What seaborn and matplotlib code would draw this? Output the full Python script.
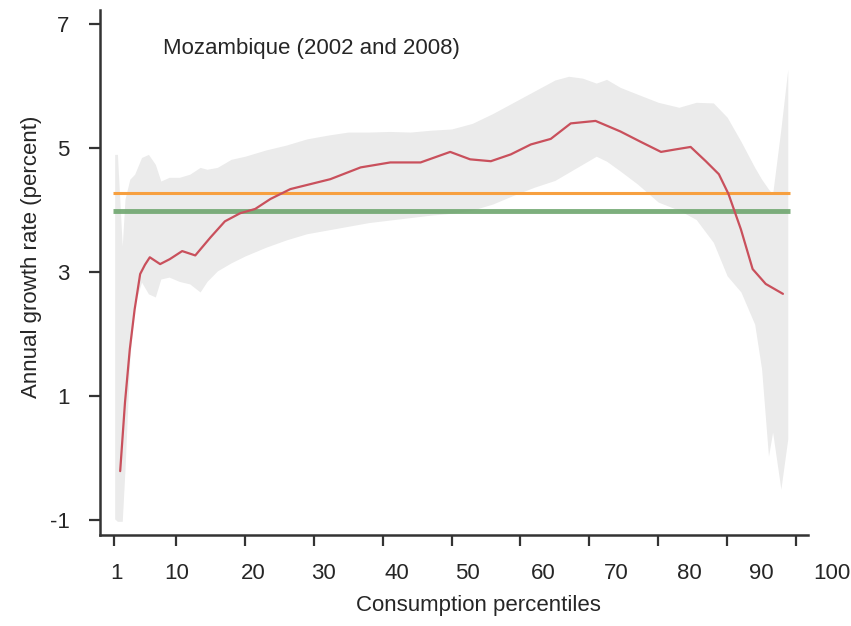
import matplotlib
matplotlib.use("Agg")
import matplotlib.pyplot as plt
import matplotlib.transforms as mtransforms
import seaborn as sns
import pandas as pd

# growth incidence curve
line_pct = [1.9, 2.6, 3.3, 4.0, 4.8, 5.5, 6.2, 7.7, 9.1, 10.9, 12.8, 15.0, 17.1,
            19.3, 21.5, 23.7, 26.6, 29.5, 32.4, 36.8, 41.1, 45.5, 49.8, 52.7,
            55.7, 58.6, 61.5, 64.4, 67.3, 70.9, 74.5, 77.5, 80.4, 82.5, 84.7,
            86.9, 88.8, 90.2, 92.0, 93.7, 95.6, 98.1]
line_growth = [-0.21, 0.9, 1.76, 2.4, 2.97, 3.12, 3.24, 3.13, 3.21, 3.34, 3.27,
               3.56, 3.82, 3.95, 4.02, 4.18, 4.34, 4.42, 4.5, 4.69, 4.77, 4.77,
               4.94, 4.82, 4.79, 4.9, 5.06, 5.15, 5.4, 5.44, 5.27, 5.1, 4.94,
               4.98, 5.02, 4.79, 4.58, 4.26, 3.69, 3.05, 2.81, 2.65]

# confidence band
band_pct = [1.1, 1.5, 2.2, 2.6, 3.3, 4.0, 5.0, 6.0, 7.0, 7.8, 9.0, 10.5, 12.0,
            13.5, 14.5, 16.0, 18.0, 20.0, 23.0, 26.0, 29.0, 32.0, 35.0, 38.0,
            41.0, 44.0, 47.0, 50.0, 53.0, 56.0, 59.0, 62.0, 65.0, 67.0, 69.0,
            71.0, 72.5, 74.5, 77.0, 80.0, 83.0, 85.5, 88.0, 90.0, 92.0, 94.0,
            95.0, 96.0, 96.6, 97.8, 98.8]
band_upper = [4.90, 4.90, 3.42, 4.18, 4.50, 4.58, 4.85, 4.90, 4.74, 4.47, 4.53,
              4.53, 4.58, 4.69, 4.66, 4.69, 4.82, 4.87, 4.97, 5.05, 5.15, 5.21,
              5.26, 5.26, 5.27, 5.26, 5.29, 5.31, 5.40, 5.56, 5.74, 5.92, 6.10,
              6.16, 6.13, 6.05, 6.11, 5.98, 5.87, 5.74, 5.66, 5.74, 5.73, 5.50,
              5.11, 4.69, 4.50, 4.34, 4.26, 5.31, 6.27]
band_lower = [-0.98, -1.02, -1.02, -0.18, 1.60, 2.48, 2.84, 2.65, 2.60, 2.89,
              2.92, 2.85, 2.81, 2.68, 2.85, 3.02, 3.15, 3.26, 3.40, 3.52, 3.62,
              3.68, 3.74, 3.80, 3.84, 3.88, 3.92, 3.95, 4.00, 4.10, 4.24, 4.37,
              4.48, 4.61, 4.74, 4.87, 4.79, 4.63, 4.42, 4.13, 4.00, 3.85, 3.48,
              2.94, 2.68, 2.16, 1.44, 0.03, 0.42, -0.50, 0.31]

mean_growth = 4.27      # orange
median_growth = 3.98    # green
hline_span = [0.85, 99.1]

xticks = [1, 10, 20, 30, 40, 50, 60, 70, 80, 90, 100]
yticks = [-1, 1, 3, 5, 7]
# the labels in the original drift right of their ticks (pixels)
xlabel_shift = [3, 1, 8, 10, 14, 16, 23, 27, 31, 34, 36]

df = pd.DataFrame({"pct": line_pct, "growth": line_growth})

sns.set_theme(style="ticks")
plt.rcParams["font.family"] = ["Liberation Sans Narrow", "Liberation Sans", "DejaVu Sans"]

fig = plt.figure(figsize=(8.51, 6.26), dpi=100)
ax = fig.add_axes([0.1175, 0.1454, 0.832, 0.8387])

ax.fill_between(band_pct, band_lower, band_upper, color="#ebebeb", lw=0, zorder=1)
ax.hlines(mean_growth, *hline_span, color="#f7a040", lw=2.2, zorder=2)
ax.hlines(median_growth, *hline_span, color="#6fa66f", lw=3.5, alpha=0.9, zorder=2)
sns.lineplot(data=df, x="pct", y="growth", ax=ax, color="#c9505c", lw=1.6, zorder=3)

ax.set_xlim(-1.03, 101.74)
ax.set_ylim(-1.24, 7.23)
ax.set_xticks(xticks)
ax.set_xticklabels([str(t) for t in xticks])
ax.set_yticks(yticks)
ax.set_yticklabels([str(t) for t in yticks])

ax.tick_params(axis="both", labelsize=16, length=8, width=1.6, color="#333333")
ax.tick_params(axis="x", pad=12)
ax.tick_params(axis="y", pad=14)
for side in ["left", "bottom"]:
    ax.spines[side].set_linewidth(1.8)
    ax.spines[side].set_color("#333333")
sns.despine(ax=ax)

# shift x tick labels after tick_params, which would reset the transforms
for tick, dx in zip(ax.xaxis.get_major_ticks(), xlabel_shift):
    tick.label1.set_transform(tick.label1.get_transform() +
                              mtransforms.ScaledTranslation(dx / 100, 0, fig.dpi_scale_trans))

ax.set_xlabel("Consumption percentiles", fontsize=16)
ax.set_ylabel("Annual growth rate (percent)", fontsize=16)
ax.xaxis.set_label_coords(0.535, -0.115)
ax.yaxis.set_label_coords(-0.082, 0.53)

ax.text(0.089, 0.926, "Mozambique (2002 and 2008)", transform=ax.transAxes,
        fontsize=16, va="center", ha="left")

fig.savefig("out.png", dpi=100)
